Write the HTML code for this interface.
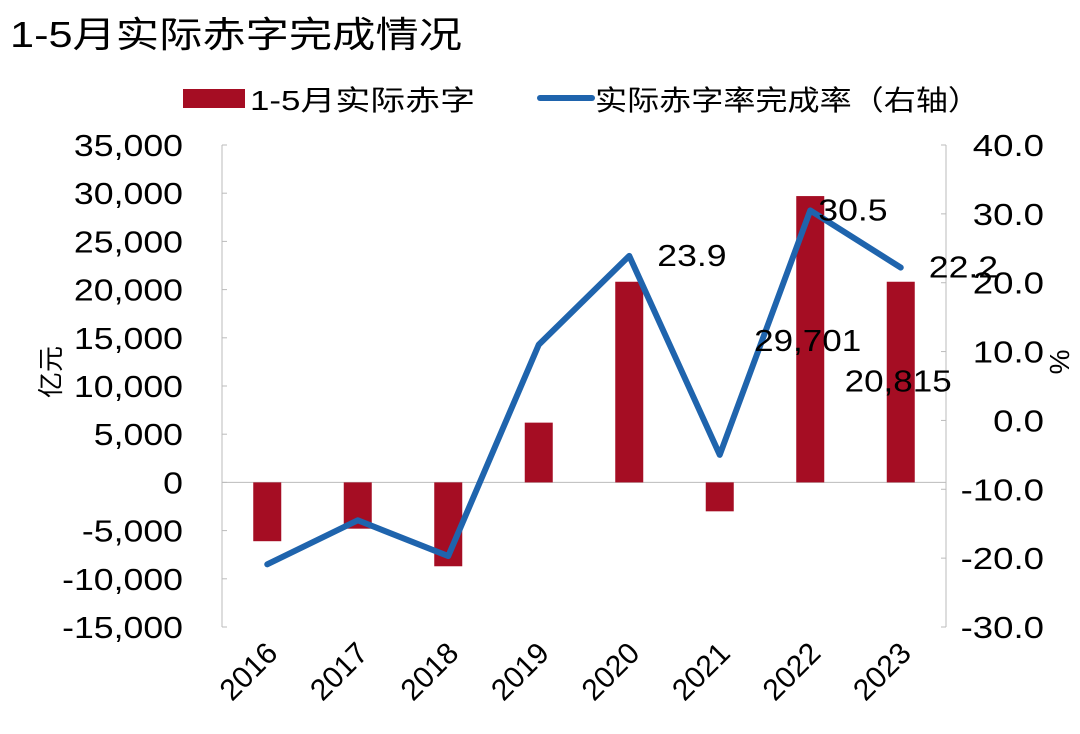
<!DOCTYPE html>
<html><head><meta charset="utf-8"><style>
html,body{margin:0;padding:0;background:#fff;}
svg{display:block;font-family:"Liberation Sans","Noto Sans CJK SC",sans-serif;}
</style></head><body>
<svg id="chart" width="1080" height="734">
<text x="10" y="47" font-size="36" textLength="452" lengthAdjust="spacingAndGlyphs" fill="#000">1-5月实际赤字完成情况</text>
<g>
<rect x="183" y="89" width="62" height="19" fill="#A50D23"/>
<text x="250" y="110" font-size="28" textLength="225" lengthAdjust="spacingAndGlyphs">1-5月实际赤字</text>
<line x1="540" y1="98" x2="592" y2="98" stroke="#1F64AD" stroke-width="6" stroke-linecap="round"/>
<text x="595" y="110" font-size="28" textLength="385" lengthAdjust="spacingAndGlyphs">实际赤字率完成率（右轴）</text>
</g>
<g id="axes"></g>
<g id="bars"></g>
<g id="line"></g>
<g id="labels"></g>
</svg>
<script>
const categories=["2016","2017","2018","2019","2020","2021","2022","2023"];
const deficitValues=[-6100,-4800,-8700,6200,20815,-3000,29701,20815];
const rateValues=[-20.9,-14.5,-19.7,11.0,23.9,-5.0,30.5,22.2];
const leftTicks=[35000,30000,25000,20000,15000,10000,5000,0,-5000,-10000,-15000];
const rightTicks=[40,30,20,10,0,-10,-20,-30];
const barLabelIdx=[6,7];
const lineLabelIdx=[4,6,7];

const NS="http://www.w3.org/2000/svg";
const X0=222,X1=946,TOP=145,BOT=627;
const yL=v=>TOP+(35000-v)*(BOT-TOP)/50000;
const yR=v=>TOP+(40-v)*(BOT-TOP)/70;
const band=(X1-X0)/categories.length;
const xc=i=>X0+band*(i+0.5);
function mk(tag,attrs,parent,text){const e=document.createElementNS(NS,tag);for(const k in attrs)e.setAttribute(k,attrs[k]);if(text!==undefined)e.textContent=text;document.getElementById(parent).appendChild(e);return e;}
function stretch(t,f){const w=t.getComputedTextLength();t.setAttribute("textLength",w*f);t.setAttribute("lengthAdjust","spacingAndGlyphs");}
const fmt=v=>v.toLocaleString("en-US");

let e=mk("line",{x1:X0,y1:TOP,x2:X0,y2:BOT,stroke:"#bbb","stroke-width":1},"axes");


e=mk("line",{x1:X1,y1:TOP,x2:X1,y2:BOT,stroke:"#bbb","stroke-width":1},"axes");


e=mk("line",{x1:X0,y1:yL(0),x2:X1,y2:yL(0),stroke:"#bbb","stroke-width":1},"axes");


leftTicks.forEach(v=>{
  const t=mk("text",{x:183,y:yL(v)+11,"font-size":31,"text-anchor":"end"},"axes",fmt(v));
  
  
  stretch(t,1.15);
  const l=mk("line",{x1:X0,y1:yL(v),x2:X0+5,y2:yL(v),stroke:"#bbb"},"axes");
  
  
});
rightTicks.forEach(v=>{
  const t=mk("text",{x:1044,y:yR(v)+11,"font-size":31,"text-anchor":"end"},"axes",v.toFixed(1));
  
  
  stretch(t,1.18);
  const l=mk("line",{x1:X1-5,y1:yR(v),x2:X1,y2:yR(v),stroke:"#bbb"},"axes");
  
  
});
e=mk("text",{x:0,y:0,"font-size":26,"text-anchor":"middle",transform:"translate(60,372) rotate(-90)"},"axes","亿元");


e=mk("text",{x:0,y:0,"font-size":28,"text-anchor":"middle",transform:"translate(1050,362) rotate(90)"},"axes","%");


categories.forEach((c,i)=>{
  const t=mk("text",{x:0,y:0,"font-size":30,"text-anchor":"end",transform:`translate(${xc(i)+12},${655}) rotate(-45)`},"axes",c);
  
  
});
const bw=28;
deficitValues.forEach((v,i)=>{
  const y=Math.min(yL(v),yL(0)),h=Math.abs(yL(v)-yL(0));
  const r=mk("rect",{x:xc(i)-bw/2,y:y,width:bw,height:h,fill:"#A50D23"},"bars");
  
  
});
const p=mk("polyline",{points:rateValues.map((v,i)=>xc(i)+","+yR(v)).join(" "),fill:"none",stroke:"#1F64AD","stroke-width":6,"stroke-linejoin":"round","stroke-linecap":"round"},"line");


const lineDx={4:28,6:8,7:28};
lineLabelIdx.forEach(i=>{
  const t=mk("text",{x:xc(i)+lineDx[i],y:yR(rateValues[i])+10,"font-size":31},"labels",rateValues[i].toFixed(1));
  
  
  stretch(t,1.15);
});
const barDy={6:155,7:110};
barLabelIdx.forEach(i=>{
  const t=mk("text",{x:xc(i)+51,y:yL(deficitValues[i])+barDy[i],"font-size":31,"text-anchor":"end"},"labels",fmt(deficitValues[i]));
  
  
  stretch(t,1.13);
});
</script>
</body></html>
